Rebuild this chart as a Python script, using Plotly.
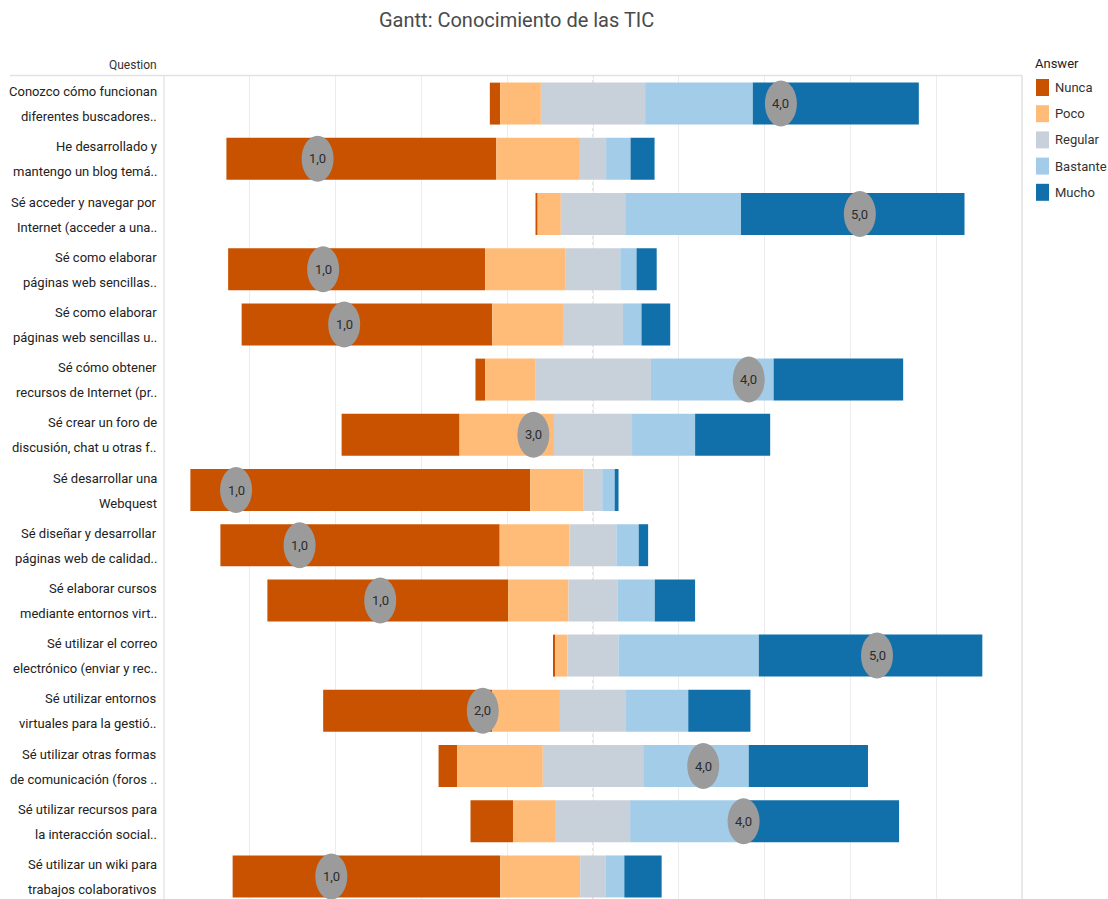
import plotly.graph_objects as go

# Survey items (two display lines each)
questions = [
    "Conozco cómo funcionan\ndiferentes buscadores..",
    "He desarrollado y\nmantengo un blog temá..",
    "Sé acceder y navegar por\nInternet (acceder a una..",
    "Sé como elaborar\npáginas web sencillas..",
    "Sé como elaborar\npáginas web sencillas u..",
    "Sé cómo obtener\nrecursos de Internet (pr..",
    "Sé crear un foro de\ndiscusión, chat u otras f..",
    "Sé desarrollar una\nWebquest",
    "Sé diseñar y desarrollar\npáginas web de calidad..",
    "Sé elaborar cursos\nmediante entornos virt..",
    "Sé utilizar el correo\nelectrónico (enviar y rec..",
    "Sé utilizar entornos\nvirtuales para la gestió..",
    "Sé utilizar otras formas\nde comunicación (foros ..",
    "Sé utilizar recursos para\nla interacción social..",
    "Sé utilizar un wiki para\ntrabajos colaborativos",
]

answers = ["Nunca", "Poco", "Regular", "Bastante", "Mucho"]
colors = ["#c85200", "#ffbc79", "#c8d0d9", "#a3cce9", "#1170aa"]

# Share of responses (%) per answer
nunca = [2.4, 62.9, 0.5, 59.9, 58.4, 2.3, 27.5, 79.2, 65.1, 56.1, 0.4, 39.4, 4.3, 9.9, 62.4]
poco = [9.5, 19.5, 5.4, 18.8, 16.5, 11.6, 22.0, 12.5, 16.3, 14.1, 2.9, 15.8, 20.0, 10.0, 18.6]
regular = [24.3, 6.1, 15.0, 12.7, 14.0, 27.0, 18.2, 4.3, 10.9, 11.4, 11.9, 15.4, 23.4, 17.3, 6.0]
bastante = [25.1, 5.7, 27.0, 3.8, 4.3, 28.6, 14.7, 2.9, 5.2, 8.7, 32.7, 14.5, 24.6, 27.2, 4.3]
mucho = [38.7, 5.6, 52.1, 4.7, 6.7, 30.2, 17.5, 0.9, 2.2, 9.4, 52.1, 14.5, 27.8, 35.5, 8.7]

# Median answer and where its marker sits on the axis
medians = [4, 1, 5, 1, 1, 4, 3, 1, 1, 1, 5, 2, 4, 4, 1]
median_pos = [43.8, -64.2, 62.2, -62.9, -58.0, 36.3, -13.9, -83.2, -68.4, -49.6,
              66.2, -25.7, 25.7, 35.1, -61.0]

FONT = "Roboto, Arial, sans-serif"
cats = [q.replace("\n", " ") for q in questions]
series = [nunca, poco, regular, bastante, mucho]

fig = go.Figure()

# Diverging stack: Regular is centred on zero
starts = [-(n + p + r / 2) for n, p, r in zip(nunca, poco, regular)]
running = list(starts)
for name, color, vals in zip(answers, colors, series):
    fig.add_trace(go.Bar(
        y=cats, x=vals, base=list(running), orientation="h",
        name=name, marker=dict(color=color, line=dict(width=0)),
        width=0.76, showlegend=False, hoverinfo="skip",
    ))
    running = [b + v for b, v in zip(running, vals)]

shapes = []
annotations = []

# Median ellipses with their values
for i, (pos, m) in enumerate(zip(median_pos, medians)):
    shapes.append(dict(
        type="circle", xref="x", yref="y",
        xsizemode="pixel", ysizemode="pixel",
        xanchor=pos, yanchor=i, x0=-16, x1=16, y0=-23, y1=23,
        fillcolor="#9b9b9b", line=dict(width=0), layer="above",
    ))
    annotations.append(dict(
        x=pos, y=cats[i], xref="x", yref="y", showarrow=False,
        text=f"{m:.1f}".replace(".", ","),
        font=dict(family=FONT, size=13, color="#2b2b2b"),
    ))

# Centre reference line
shapes.append(dict(type="line", xref="x", yref="paper", x0=0, x1=0, y0=0, y1=1,
                   line=dict(color="#c8c8c8", width=1, dash="dot"), layer="below"))

# Frame lines
W, H = 1108, 899
L, R, T = 164, 1022, 76
pw, ph = R - L, H - T
def px_x(px):
    return (px - L) / pw
def px_y(py):
    return 1 - (py - T) / ph
shapes.append(dict(type="line", xref="paper", yref="paper",
                   x0=px_x(10), x1=px_x(R), y0=px_y(75.5), y1=px_y(75.5),
                   line=dict(color="#e2e2e2", width=1.5)))
shapes.append(dict(type="line", xref="paper", yref="paper",
                   x0=px_x(L), x1=px_x(L), y0=0, y1=px_y(75.5),
                   line=dict(color="#e6e6e6", width=1.5)))
shapes.append(dict(type="line", xref="paper", yref="paper",
                   x0=px_x(R), x1=px_x(R), y0=0, y1=px_y(75.5),
                   line=dict(color="#e2e2e2", width=1.5)))

# Row labels, two lines each
for c, q in zip(cats, questions):
    lines = q.split("\n")
    for k, line in enumerate(lines):
        annotations.append(dict(
            x=px_x(159), xref="paper", y=c, yref="y",
            yshift=12 - 25 * k, xanchor="right", yanchor="middle",
            text=line, showarrow=False,
            font=dict(family=FONT, size=13, color="#222222"),
        ))

# Headers and title
annotations.append(dict(x=px_x(159), y=px_y(65), xref="paper", yref="paper",
                        xanchor="right", yanchor="middle", text="Question",
                        showarrow=False, font=dict(family=FONT, size=12, color="#333333")))
annotations.append(dict(x=px_x(516), y=px_y(20), xref="paper", yref="paper",
                        xanchor="center", yanchor="middle",
                        text="Gantt: Conocimiento de las TIC", showarrow=False,
                        font=dict(family=FONT, size=20, color="#4a4a4a")))

# Legend
annotations.append(dict(x=px_x(1033), y=px_y(64), xref="paper", yref="paper",
                        xanchor="left", yanchor="middle", text="Answer",
                        showarrow=False, font=dict(family=FONT, size=13, color="#222222")))
for k, (name, color) in enumerate(zip(answers, colors)):
    cy = 87.5 + 26.2 * k
    shapes.append(dict(type="rect", xref="paper", yref="paper",
                       x0=px_x(1036), x1=px_x(1049), y0=px_y(cy - 8.5), y1=px_y(cy + 8.5),
                       fillcolor=color, line=dict(width=0)))
    annotations.append(dict(x=px_x(1053), y=px_y(cy), xref="paper", yref="paper",
                            xanchor="left", yanchor="middle", text=name,
                            showarrow=False,
                            font=dict(family=FONT, size=13, color="#333333")))

band = 55.2
fig.update_layout(
    width=W, height=H,
    margin=dict(l=L, r=W - R, t=T, b=0),
    paper_bgcolor="white", plot_bgcolor="white",
    barmode="overlay",
    shapes=shapes, annotations=annotations,
    xaxis=dict(range=[-100, 100], dtick=20, tick0=0, showgrid=True,
               gridcolor="#ececec", gridwidth=1, zeroline=False,
               showticklabels=False, showline=False, fixedrange=True),
    yaxis=dict(type="category", categoryorder="array", categoryarray=cats,
               range=[ph / band - 0.5, -0.5], showticklabels=False,
               showgrid=False, zeroline=False, showline=False),
    font=dict(family=FONT),
)

fig.write_html("out.html")
